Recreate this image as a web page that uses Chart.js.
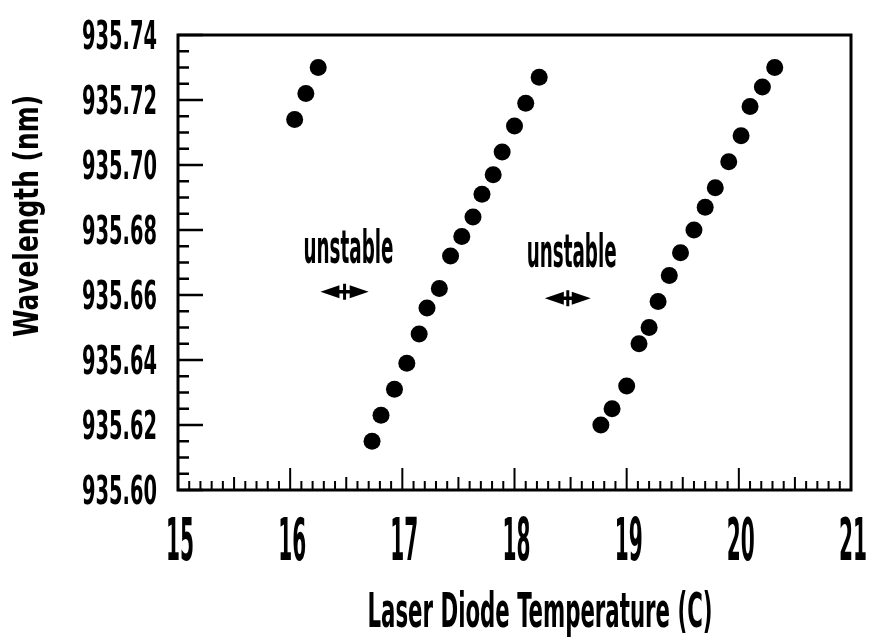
<!DOCTYPE html>
<html>
<head>
<meta charset="utf-8">
<title>Laser Diode Wavelength vs Temperature</title>
<script src="https://cdn.jsdelivr.net/npm/chart.js@4"></script>
<style>
    html, body { margin: 0; padding: 0; background: #fff; }
    canvas { display: block; }
</style>
</head>
<body>
<canvas id="tuningChart" width="869" height="640"></canvas>
<script>
// Temperature (C) and wavelength (nm) for each stable mode branch
const tempBranch1 = [16.04, 16.14, 16.25];
const waveBranch1 = [935.714, 935.722, 935.730];

const tempBranch2 = [16.73, 16.81, 16.93, 17.04, 17.15, 17.22, 17.33, 17.43,
                     17.53, 17.63, 17.71, 17.81, 17.89, 18.00, 18.10, 18.22];
const waveBranch2 = [935.615, 935.623, 935.631, 935.639, 935.648, 935.656, 935.662, 935.672,
                     935.678, 935.684, 935.691, 935.697, 935.704, 935.712, 935.719, 935.727];

const tempBranch3 = [18.77, 18.87, 19.00, 19.11, 19.20, 19.28, 19.38, 19.48,
                     19.60, 19.70, 19.79, 19.91, 20.02, 20.10, 20.21, 20.32];
const waveBranch3 = [935.620, 935.625, 935.632, 935.645, 935.650, 935.658, 935.666, 935.673,
                     935.680, 935.687, 935.693, 935.701, 935.709, 935.718, 935.724, 935.730];

// Axis tick labels
const xTickLabels = ['15', '16', '17', '18', '19', '20', '21'];
const yTickLabels = ['935.60', '935.62', '935.64', '935.66', '935.68', '935.70', '935.72', '935.74'];

// Unstable regions marked between the branches
const unstableNotes = [
    { text: 'unstable', x: 16.52, y: 935.675, arrowFrom: 16.27, arrowTo: 16.70, arrowY: 935.661 },
    { text: 'unstable', x: 18.51, y: 935.674, arrowFrom: 18.27, arrowTo: 18.68, arrowY: 935.659 }
];

const FONT = '"Liberation Sans Narrow", "DejaVu Sans Condensed", "Roboto", sans-serif';

function toPoints(xs, ys) {
    return xs.map((x, i) => ({ x, y: ys[i] }));
}

// Draws text squeezed horizontally to a given width (tall condensed lettering)
function squeezeText(ctx, text, x, y, size, width, align, angle = 0) {
    ctx.save();
    ctx.font = `bold ${size}px ${FONT}`;
    const w = ctx.measureText(text).width;
    ctx.translate(x, y);
    if (angle) ctx.rotate(angle);
    ctx.scale(width / w, 1);
    ctx.textAlign = align;
    ctx.textBaseline = 'alphabetic';
    ctx.fillStyle = '#000';
    ctx.fillText(text, 0, 0);
    ctx.restore();
}

// Two arrowheads pointing outward with a short bar between them
function drawDoubleArrow(ctx, x1, x2, y) {
    const mid = (x1 + x2) / 2;
    const head = 19, half = 6.5;
    ctx.save();
    ctx.fillStyle = '#000';
    ctx.strokeStyle = '#000';
    ctx.lineWidth = 3.5;
    ctx.beginPath();
    ctx.moveTo(x1 + head - 2, y);
    ctx.lineTo(x2 - head + 2, y);
    ctx.stroke();
    ctx.lineWidth = 3;
    ctx.beginPath();
    ctx.moveTo(mid, y - 8);
    ctx.lineTo(mid, y + 8);
    ctx.stroke();
    ctx.beginPath();
    ctx.moveTo(x1, y);
    ctx.lineTo(x1 + head, y - half);
    ctx.lineTo(x1 + head, y + half);
    ctx.closePath();
    ctx.fill();
    ctx.beginPath();
    ctx.moveTo(x2, y);
    ctx.lineTo(x2 - head, y - half);
    ctx.lineTo(x2 - head, y + half);
    ctx.closePath();
    ctx.fill();
    ctx.restore();
}

// Frame, inward ticks, labels and notes
const framePlugin = {
    id: 'frame',
    afterDraw(chart) {
        const { ctx, chartArea: area, scales: { x, y } } = chart;
        ctx.save();
        ctx.strokeStyle = '#000';
        ctx.lineWidth = 3;
        ctx.strokeRect(area.left, area.top, area.right - area.left, area.bottom - area.top);

        ctx.lineWidth = 2.5;
        ctx.beginPath();
        // y ticks every 0.005 nm, long every 0.02
        for (let i = 0; i <= 28; i++) {
            const py = y.getPixelForValue(935.60 + i * 0.005);
            const len = i % 4 === 0 ? 25 : 11;
            ctx.moveTo(area.left, py);
            ctx.lineTo(area.left + len, py);
        }
        ctx.stroke();
        ctx.lineWidth = 2;
        ctx.beginPath();
        // x ticks every 0.1 C
        for (let i = 0; i <= 60; i++) {
            const px = x.getPixelForValue(15 + i * 0.1);
            const len = i % 10 === 0 ? 22 : (i % 5 === 0 ? 13 : 9);
            ctx.moveTo(px, area.bottom);
            ctx.lineTo(px, area.bottom - len);
        }
        ctx.stroke();
        ctx.restore();

        yTickLabels.forEach(label => {
            const py = y.getPixelForValue(parseFloat(label));
            squeezeText(ctx, label, 157, py + 14, 39, 75, 'right');
        });
        xTickLabels.forEach(label => {
            const px = x.getPixelForValue(parseFloat(label)) + 2;
            squeezeText(ctx, label, px, 560, 58, 28, 'center');
        });

        squeezeText(ctx, 'Laser Diode Temperature (C)', 540, 627, 48, 345, 'center');
        squeezeText(ctx, 'Wavelength (nm)', 38, 216, 34, 242, 'center', -Math.PI / 2);

        unstableNotes.forEach(note => {
            squeezeText(ctx, note.text, x.getPixelForValue(note.x), y.getPixelForValue(note.y) + 17, 47, 90, 'center');
            drawDoubleArrow(ctx, x.getPixelForValue(note.arrowFrom), x.getPixelForValue(note.arrowTo),
                            y.getPixelForValue(note.arrowY));
        });
    }
};

const dotStyle = {
    backgroundColor: '#000',
    borderWidth: 0,
    pointRadius: 8.5,
    pointHoverRadius: 8.5
};

new Chart(document.getElementById('tuningChart'), {
    type: 'scatter',
    data: {
        datasets: [
            { label: 'Mode 1', data: toPoints(tempBranch1, waveBranch1), ...dotStyle },
            { label: 'Mode 2', data: toPoints(tempBranch2, waveBranch2), ...dotStyle },
            { label: 'Mode 3', data: toPoints(tempBranch3, waveBranch3), ...dotStyle }
        ]
    },
    options: {
        responsive: false,
        animation: false,
        layout: { padding: { left: 178, right: 18, top: 35, bottom: 150 } },
        plugins: {
            legend: { display: false },
            tooltip: { enabled: false }
        },
        scales: {
            x: { type: 'linear', min: 15, max: 21, display: false },
            y: { type: 'linear', min: 935.60, max: 935.74, display: false }
        }
    },
    plugins: [framePlugin]
});
</script>
</body>
</html>
